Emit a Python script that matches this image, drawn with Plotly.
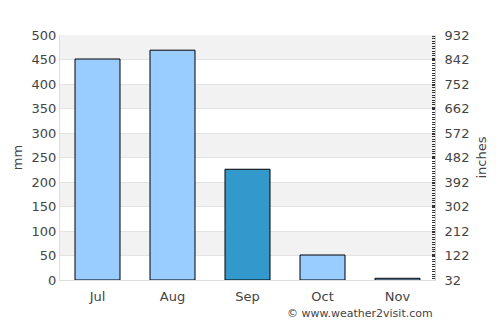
import plotly.graph_objects as go

months = ["Jul", "Aug", "Sep", "Oct", "Nov"]
rain_mm = [451, 469, 226, 51, 3.5]
bar_colors = ["#99ccff", "#99ccff", "#3399cc", "#99ccff", "#99ccff"]
left_ticks = list(range(0, 501, 50))
right_ticks = list(range(32, 933, 90))

fig = go.Figure()
fig.add_trace(go.Bar(
    x=months, y=rain_mm, width=0.6,
    marker=dict(color=bar_colors, line=dict(color="#000000", width=1)),
    hoverinfo="skip", showlegend=False,
))
fig.add_trace(go.Scatter(x=[months[0]], y=[None], yaxis="y2", mode="markers",
                         showlegend=False, hoverinfo="skip"))

shapes = []
for i in range(len(left_ticks) - 1):
    if i % 2 == 1:
        shapes.append(dict(type="rect", xref="paper", yref="y", x0=0, x1=1,
                           y0=left_ticks[i], y1=left_ticks[i + 1],
                           fillcolor="#f2f2f2", line=dict(width=0), layer="below"))

font = dict(family="DejaVu Sans", size=13, color="#444444")
fig.update_layout(
    width=500, height=325,
    margin=dict(l=60, r=65, t=35, b=45),
    paper_bgcolor="white", plot_bgcolor="white",
    font=font,
    shapes=shapes,
    bargap=0.4,
    xaxis=dict(showgrid=False, ticks="", showline=True, linecolor="#dddddd",
               tickfont=font, ticklabelstandoff=4),
    yaxis=dict(range=[0, 500], tickvals=left_ticks, showgrid=True, gridcolor="#e3e3e3",
               zeroline=False, showline=True, linecolor="#dddddd", ticks="",
               title=dict(text="mm", font=font, standoff=6), tickfont=font),
    yaxis2=dict(range=[32, 932], tickvals=right_ticks, overlaying="y", side="right",
                showgrid=False, zeroline=False, showline=True, linecolor="#cccccc",
                ticks="inside", ticklen=3, tickwidth=1, tickcolor="#333333",
                ticklabelstandoff=6,
                minor=dict(dtick=9, ticks="inside", ticklen=3, tickcolor="#333333", showgrid=False),
                title=dict(text="inches", font=font, standoff=8), tickfont=font),
    annotations=[dict(text="© www.weather2visit.com", xref="paper", yref="paper",
                      x=1, y=0, xanchor="right", yanchor="top", yshift=-25,
                      showarrow=False, font=dict(family="DejaVu Sans", size=11, color="#444444"))],
)
fig.write_html("out.html")
